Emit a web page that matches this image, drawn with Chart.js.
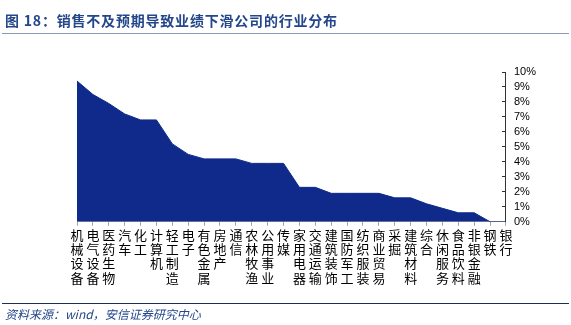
<!DOCTYPE html>
<html>
<head>
<meta charset="utf-8">
<script src="https://cdn.jsdelivr.net/npm/chart.js@4.4.1/dist/chart.umd.min.js"></script>
<style>
  html, body { margin: 0; padding: 0; background: #fff; }
  #wrap { position: relative; width: 571px; height: 325px; overflow: hidden; }
  #title { position: absolute; left: 5px; top: 10px; font: bold 14px "Noto Sans CJK SC", sans-serif; letter-spacing: 0.8px; color: #24468a; white-space: nowrap; }
  #line1 { position: absolute; left: 2px; right: 2px; top: 33px; height: 1px; background: #8d9ab3; }
  #line2 { position: absolute; left: 2px; right: 2px; top: 303px; height: 1px; background: #1c2f55; }
  #foot { position: absolute; left: 5px; top: 305px; font: italic 12px "Noto Sans CJK SC", sans-serif; color: #24468a; white-space: nowrap; }
  canvas { position: absolute; left: 0; top: 0; }
</style>
</head>
<body>
<div id="wrap">
  <canvas id="chart" width="571" height="325"></canvas>
  <div id="title">图 18：销售不及预期导致业绩下滑公司的行业分布</div>
  <div id="line1"></div>
  <div id="line2"></div>
  <div id="foot">资料来源：wind，安信证券研究中心</div>
</div>
<script>
// industries, left to right
const industries = ['机械设备','电气设备','医药生物','汽车','化工','计算机','轻工制造','电子','有色金属','房地产',
  '通信','农林牧渔','公用事业','传媒','家用电器','交通运输','建筑装饰','国防军工','纺织服装','商业贸易',
  '采掘','建筑材料','综合','休闲服务','食品饮料','非银金融','钢铁','银行'];

// share of companies (%)
const shares = [9.4, 8.5, 7.9, 7.2, 6.8, 6.8, 5.2, 4.5, 4.2, 4.2,
  4.2, 3.9, 3.9, 3.9, 2.3, 2.3, 1.9, 1.9, 1.9, 1.9,
  1.6, 1.6, 1.2, 0.9, 0.6, 0.6, 0, 0];

const yTicks = [0, 1, 2, 3, 4, 5, 6, 7, 8, 9, 10];

// vertical labels: one character per line
const labels = industries.map(s => s.split(''));

new Chart(document.getElementById('chart'), {
  type: 'line',
  data: {
    labels: labels,
    datasets: [{
      data: shares,
      fill: 'origin',
      backgroundColor: '#0f2a8a',
      borderColor: '#0f2a8a',
      borderWidth: 1,
      pointRadius: 0,
      tension: 0
    }]
  },
  options: {
    responsive: false,
    animation: false,
    layout: { padding: { left: 77, right: 23, top: 72, bottom: 38 } },
    plugins: { legend: { display: false }, tooltip: { enabled: false } },
    scales: {
      x: {
        offset: false,
        border: { color: '#a6a6a6' },
        grid: { drawOnChartArea: false, tickLength: 4, color: '#a6a6a6' },
        ticks: {
          autoSkip: false, maxRotation: 0, padding: 2,
          color: '#000',
          font: { family: '"Noto Sans CJK SC", sans-serif', size: 13, lineHeight: 1.1 }
        }
      },
      y: {
        position: 'right',
        min: 0, max: 10,
        afterBuildTicks: axis => { axis.ticks = yTicks.map(v => ({ value: v })); },
        border: { color: '#333' },
        grid: { drawOnChartArea: false, tickLength: -4, color: '#333' },
        ticks: {
          autoSkip: false,
          padding: 12,
          color: '#000',
          font: { family: '"Liberation Sans", Arial, sans-serif', size: 11 },
          callback: v => v + '%'
        }
      }
    }
  }
});
</script>
</body>
</html>
